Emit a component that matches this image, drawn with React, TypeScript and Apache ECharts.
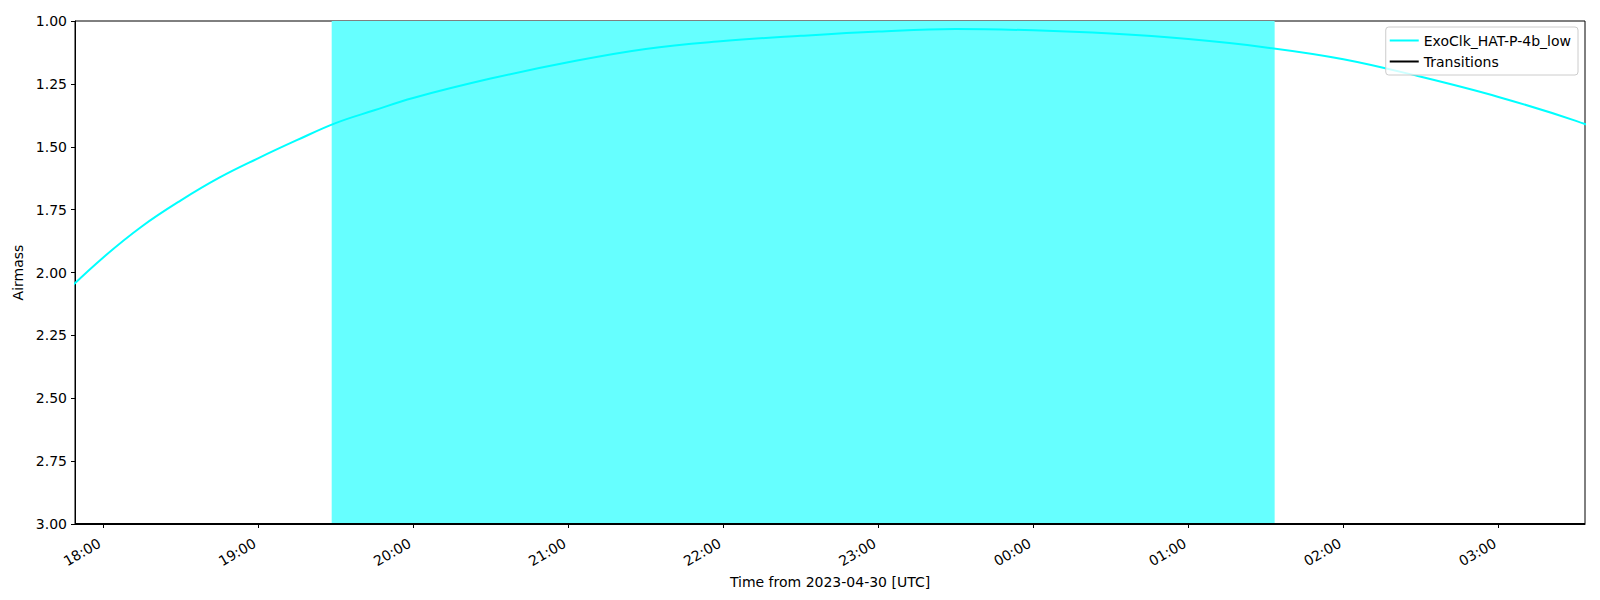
import React, { useEffect, useRef } from "react";
import * as echarts from "echarts";

// ---- data ----
const curveTimes = [
  "17:45", "18:00", "18:15", "18:30", "18:45", "19:00", "19:15", "19:30", "19:45",
  "20:00", "20:30", "21:00", "21:30", "22:00", "22:30", "23:00", "23:30", "00:00",
  "00:30", "01:00", "01:30", "02:00", "02:30", "03:00", "03:30", "03:45",
];
const curveAirmass = [
  2.083, 1.941, 1.817, 1.714, 1.623, 1.546, 1.474, 1.406, 1.355,
  1.306, 1.229, 1.164, 1.111, 1.080, 1.059, 1.042, 1.032, 1.037,
  1.050, 1.072, 1.105, 1.152, 1.222, 1.302, 1.397, 1.458,
];
const transitionTimes = ["17:49:10", "03:33:30"];
const transitionAirmass = [3, 3];
const spanStart = "19:28:30";
const spanEnd = "01:33:24";
const xMinTime = "17:49:10";
const xMaxTime = "03:33:30";
const tickLabels = [
  "18:00", "19:00", "20:00", "21:00", "22:00", "23:00", "00:00", "01:00", "02:00", "03:00",
];
const seriesName = "ExoClk_HAT-P-4b_low";
const transitionsName = "Transitions";
const xTitle = "Time from 2023-04-30 [UTC]";
const yTitle = "Airmass";

// hours since 18:00 (times after midnight wrap to next day)
function toHours(t: string): number {
  const p = t.split(":").map(Number);
  let h = p[0] + (p[1] || 0) / 60 + (p[2] || 0) / 3600;
  if (p[0] < 12) h += 24;
  return h - 18;
}
function fmt(v: number): string {
  const total = Math.round((v + 18) * 60);
  const hh = Math.floor(total / 60) % 24;
  const mm = total % 60;
  return String(hh).padStart(2, "0") + ":" + String(mm).padStart(2, "0");
}

const FONT = "DejaVu Sans";
const FS = 14;

export default function App() {
  const ref = useRef<HTMLDivElement>(null);
  useEffect(() => {
    if (!ref.current) return;
    const chart = echarts.init(ref.current, null, { renderer: "svg" });
    const tickValues = tickLabels.map(toHours);
    const option: any = {
      animation: false,
      backgroundColor: "#fff",
      textStyle: { fontFamily: FONT },
      grid: {
        left: 75,
        right: 15,
        top: 21,
        bottom: 76,
        show: true,
        borderColor: "#000",
        borderWidth: 1,
        backgroundColor: "transparent",
      },
      legend: {
        right: 22,
        top: 27,
        orient: "vertical",
        align: "left",
        itemWidth: 29,
        itemHeight: 2,
        itemGap: 4,
        padding: [5, 7, 5, 4],
        borderColor: "#cccccc",
        borderWidth: 1,
        borderRadius: 3,
        backgroundColor: "rgba(255,255,255,0.8)",
        icon: "rect",
        textStyle: { fontFamily: FONT, fontSize: FS, color: "#000", lineHeight: 17 },
        data: [seriesName, transitionsName],
      },
      xAxis: {
        type: "value",
        min: toHours(xMinTime),
        max: toHours(xMaxTime),
        name: xTitle,
        nameLocation: "middle",
        nameGap: 46,
        nameTextStyle: { fontFamily: FONT, fontSize: FS, color: "#000" },
        splitLine: { show: false },
        axisLine: { show: true, onZero: false, lineStyle: { color: "#000", width: 1 } },
        axisTick: {
          show: true,
          length: 4,
          customValues: tickValues,
          lineStyle: { color: "#000" },
        },
        axisLabel: {
          customValues: tickValues,
          rotate: 30,
          margin: 16,
          padding: [0, 4, 0, 0],
          fontFamily: FONT,
          fontSize: FS,
          color: "#000",
          formatter: (v: number) => fmt(v),
        },
      },
      yAxis: {
        type: "value",
        inverse: true,
        min: 1,
        max: 3,
        interval: 0.25,
        name: yTitle,
        nameLocation: "middle",
        nameGap: 47,
        nameTextStyle: { fontFamily: FONT, fontSize: FS, color: "#000" },
        splitLine: { show: false },
        axisLine: { show: true, onZero: false, lineStyle: { color: "#000", width: 1 } },
        axisTick: { show: true, length: 4, lineStyle: { color: "#000" } },
        axisLabel: {
          margin: 8,
          fontFamily: FONT,
          fontSize: FS,
          color: "#000",
          formatter: (v: number) => v.toFixed(2),
        },
      },
      series: [
        {
          name: "span",
          type: "line",
          data: [],
          z: 1,
          silent: true,
          markArea: {
            silent: true,
            itemStyle: { color: "#66ffff", opacity: 1 },
            data: [[{ xAxis: toHours(spanStart) }, { xAxis: toHours(spanEnd) }]],
          },
        },
        {
          name: seriesName,
          type: "line",
          z: 3,
          smooth: 0.4,
          clip: true,
          symbol: "none",
          showSymbol: false,
          color: "#00ffff",
          lineStyle: { color: "#00ffff", width: 2 },
          data: curveTimes.map((t, i) => [toHours(t), curveAirmass[i]]),
        },
        {
          name: transitionsName,
          type: "line",
          z: 4,
          symbol: "none",
          showSymbol: false,
          color: "#000",
          lineStyle: { color: "#000", width: 2 },
          data: transitionTimes.map((t, i) => [toHours(t), transitionAirmass[i]]),
        },
      ],
    };
    chart.setOption(option);
    return () => chart.dispose();
  }, []);
  return (
    <div
      ref={ref}
      style={{ position: "fixed", left: 0, top: 0, width: 1600, height: 600, background: "#fff" }}
    />
  );
}
